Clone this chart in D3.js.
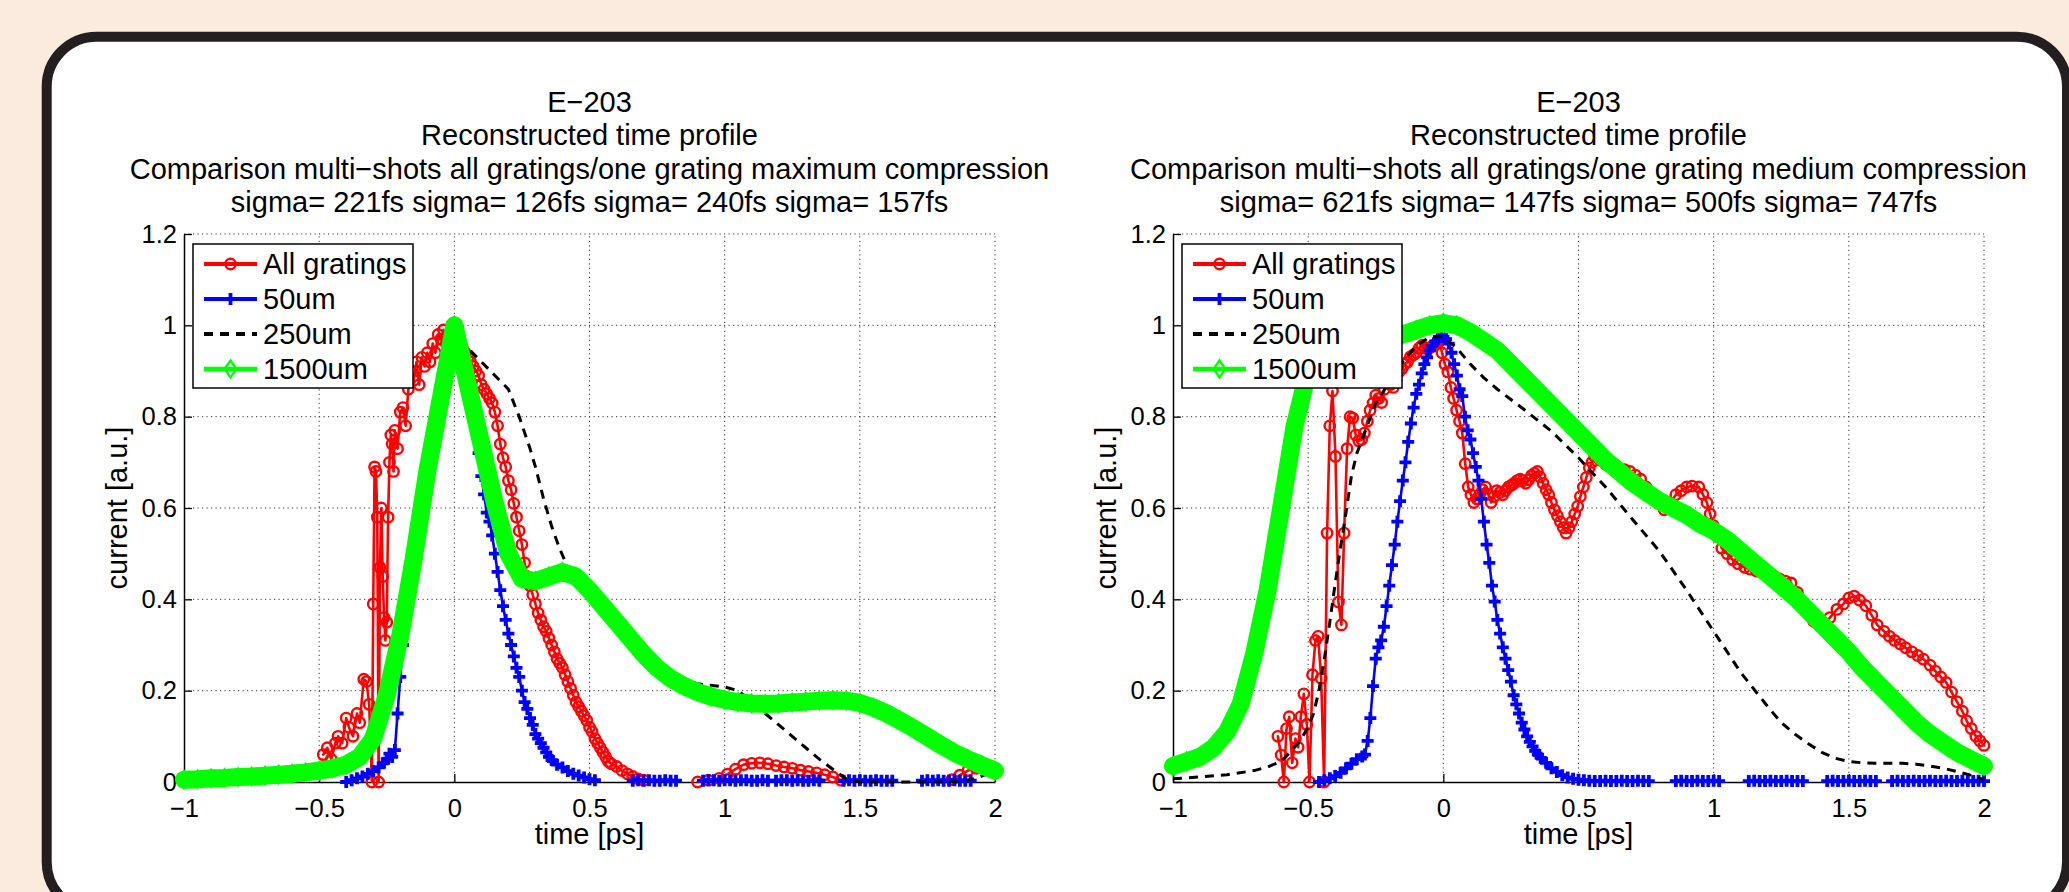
<!DOCTYPE html>
<html>
<head>
<meta charset="utf-8">
<script src="https://cdn.jsdelivr.net/npm/d3@7"></script>
<style>
  html, body { margin: 0; padding: 0; background: #faebde; }
  svg { display: block; }
  text { font-family: "Liberation Sans", Arial, Helvetica, sans-serif; fill: #000; }
</style>
</head>
<body>
<div id="chart"></div>
<script>
const width = 2069;
const height = 892;
const plot_w = 811;
const plot_top = 234;
const plot_bottom = 782;

const x_ticks = [-1, -0.5, 0, 0.5, 1, 1.5, 2];
const y_ticks = [0, 0.2, 0.4, 0.6, 0.8, 1, 1.2];
const legend_labels = ['All gratings', '50um', '250um', '1500um'];
const title_common = ['E\u2212203', 'Reconstructed time profile'];
const title_max = 'Comparison multi\u2212shots all gratings/one grating maximum compression';
const title_med = 'Comparison multi\u2212shots all gratings/one grating medium compression';
const sigma_max = 'sigma= 221fs sigma= 126fs sigma= 240fs sigma= 157fs';
const sigma_med = 'sigma= 621fs sigma= 147fs sigma= 500fs sigma= 747fs';

// ---- maximum compression (left) ----
const max_red = [
  [-0.485,0.06],[-0.47,0.075],[-0.455,0.05],[-0.44,0.085],[-0.43,0.10],[-0.415,0.085],[-0.40,0.14],[-0.39,0.12],
  [-0.375,0.10],[-0.36,0.15],[-0.35,0.13],[-0.335,0.225],[-0.325,0.22],[-0.315,0.17],[-0.305,0.0],[-0.30,0.39],
  [-0.295,0.69],[-0.29,0.68],[-0.285,0.58],[-0.28,0.0],[-0.275,0.47],[-0.27,0.60],[-0.265,0.45],[-0.26,0.36],
  [-0.255,0.31],[-0.25,0.35],[-0.245,0.58],[-0.24,0.70],[-0.235,0.76],[-0.23,0.74],[-0.225,0.68],[-0.22,0.77],
  [-0.21,0.73],[-0.20,0.81],[-0.19,0.82],[-0.18,0.78],[-0.17,0.86],[-0.16,0.90],[-0.15,0.88],[-0.14,0.92],
  [-0.13,0.87],[-0.12,0.93],[-0.11,0.91],[-0.10,0.94],[-0.09,0.92],[-0.08,0.96],[-0.07,0.94],[-0.06,0.98],
  [-0.05,0.97],[-0.04,0.99],[-0.03,0.96],[-0.02,0.93],[-0.01,0.95],[0.00,0.92],[0.01,0.98],[0.02,0.97],
  [0.03,0.95],[0.04,0.94],[0.05,0.93],[0.06,0.92],[0.07,0.91],[0.08,0.90],[0.09,0.89],[0.10,0.87],
  [0.11,0.86],[0.12,0.85],[0.13,0.84],[0.14,0.83],[0.15,0.81],[0.16,0.78],[0.17,0.74],[0.18,0.71],
  [0.19,0.69],[0.20,0.66],[0.21,0.64],[0.22,0.61],[0.23,0.58],[0.24,0.55],[0.25,0.52],[0.26,0.48],
  [0.27,0.45],[0.28,0.43],[0.29,0.41],[0.30,0.39],[0.31,0.37],[0.32,0.355],[0.33,0.34],[0.34,0.33],
  [0.35,0.315],[0.36,0.30],[0.37,0.285],[0.38,0.27],[0.39,0.26],[0.40,0.25],[0.41,0.235],[0.42,0.22],
  [0.43,0.205],[0.44,0.19],[0.45,0.175],[0.46,0.165],[0.47,0.155],[0.48,0.145],[0.49,0.135],[0.50,0.12],
  [0.51,0.11],[0.52,0.095],[0.53,0.085],[0.54,0.075],[0.55,0.065],[0.56,0.055],[0.57,0.045],[0.58,0.04],
  [0.60,0.034],[0.62,0.025],[0.64,0.018],[0.66,0.012],[0.68,0.007],[0.70,0.004],
  null,
  [0.90,0.0],[0.94,0.004],[0.98,0.008],[1.01,0.017],[1.04,0.028],[1.07,0.038],[1.10,0.041],[1.13,0.042],
  [1.16,0.04],[1.19,0.036],[1.22,0.033],[1.25,0.03],[1.28,0.026],[1.31,0.023],[1.34,0.02],[1.37,0.016],
  [1.40,0.011],[1.43,0.004],
  null,
  [1.84,0.005],[1.87,0.015],[1.90,0.025],[1.93,0.03],[1.96,0.034],[1.98,0.03],[2.00,0.025]
];
const max_blue = [
  [-0.40,0.0],[-0.38,0.004],[-0.36,0.008],[-0.34,0.012],[-0.32,0.018],[-0.30,0.024],[-0.28,0.032],[-0.26,0.042],
  [-0.25,0.05],[-0.24,0.062],[-0.23,0.055],[-0.22,0.07],[-0.21,0.15],[-0.20,0.23],[-0.19,0.30],[-0.18,0.37],
  [-0.17,0.42],[-0.16,0.46],[-0.15,0.50],[-0.14,0.55],[-0.13,0.59],[-0.12,0.63],[-0.11,0.67],[-0.10,0.70],
  [-0.09,0.74],[-0.08,0.77],[-0.07,0.80],[-0.06,0.83],[-0.05,0.86],[-0.04,0.89],[-0.03,0.92],[-0.02,0.94],
  [-0.01,0.96],[0.00,0.97],[0.01,0.965],[0.02,0.95],[0.03,0.935],[0.04,0.90],[0.05,0.87],[0.06,0.855],
  [0.07,0.81],[0.08,0.77],[0.09,0.72],[0.10,0.67],[0.11,0.63],[0.12,0.59],[0.13,0.57],[0.14,0.54],
  [0.15,0.50],[0.16,0.46],[0.17,0.42],[0.18,0.385],[0.19,0.355],[0.20,0.325],[0.21,0.30],[0.22,0.275],
  [0.23,0.25],[0.24,0.23],[0.25,0.20],[0.26,0.175],[0.27,0.16],[0.28,0.14],[0.29,0.125],[0.30,0.105],
  [0.31,0.095],[0.32,0.085],[0.33,0.075],[0.34,0.065],[0.35,0.055],[0.36,0.048],[0.38,0.038],[0.40,0.032],
  [0.42,0.024],[0.44,0.018],[0.46,0.014],[0.48,0.01],[0.50,0.006],[0.52,0.004],
  null,
  [0.66,0.003],[0.68,0.004],[0.70,0.003],[0.72,0.004],[0.74,0.003],[0.76,0.003],[0.78,0.004],[0.80,0.003],[0.82,0.003],
  null,
  [0.92,0.003],[0.94,0.004],[0.96,0.004],[0.98,0.003],[1.00,0.004],[1.02,0.004],[1.04,0.003],[1.06,0.004],
  [1.08,0.004],[1.10,0.003],[1.12,0.003],[1.14,0.004],[1.16,0.003],
  null,
  [1.19,0.003],[1.21,0.004],[1.23,0.004],[1.25,0.003],[1.27,0.004],[1.29,0.003],[1.31,0.003],[1.33,0.004],[1.35,0.003],
  null,
  [1.44,0.003],[1.46,0.004],[1.48,0.003],[1.50,0.004],[1.52,0.003],[1.54,0.003],[1.56,0.004],[1.58,0.003],[1.60,0.003],[1.62,0.003],
  null,
  [1.73,0.003],[1.75,0.004],[1.77,0.003],[1.79,0.004],[1.81,0.003],[1.83,0.003],[1.85,0.004],[1.87,0.003],[1.89,0.003],[1.91,0.003]
];
const max_black = [
  [-1.0,0.003],[-0.9,0.004],[-0.8,0.006],[-0.7,0.008],[-0.6,0.012],[-0.5,0.02],[-0.45,0.03],[-0.4,0.045],
  [-0.35,0.07],[-0.3,0.11],[-0.25,0.18],[-0.2,0.30],[-0.15,0.46],[-0.1,0.65],[-0.05,0.83],[0.0,0.965],
  [0.05,0.95],[0.1,0.92],[0.15,0.89],[0.2,0.86],[0.24,0.80],[0.28,0.73],[0.3,0.69],[0.33,0.62],
  [0.36,0.56],[0.39,0.51],[0.42,0.47],[0.45,0.45],[0.5,0.41],[0.6,0.345],[0.7,0.28],[0.8,0.235],
  [0.9,0.215],[1.0,0.208],[1.05,0.2],[1.1,0.175],[1.15,0.15],[1.2,0.125],[1.25,0.1],[1.3,0.075],
  [1.35,0.05],[1.4,0.028],[1.45,0.006],[1.5,0.0],[1.6,0.0],[1.7,0.0],[1.8,0.0],[1.88,0.001],
  [1.94,0.01],[2.0,0.025]
];
const max_green = [
  [-1.00,0.005],[-0.95,0.006],[-0.90,0.008],[-0.85,0.009],[-0.80,0.011],[-0.75,0.012],[-0.70,0.014],[-0.65,0.016],
  [-0.60,0.018],[-0.55,0.021],[-0.50,0.025],[-0.45,0.03],[-0.40,0.038],[-0.35,0.055],[-0.30,0.095],[-0.25,0.19],
  [-0.20,0.32],[-0.15,0.49],[-0.10,0.68],[-0.05,0.84],[0.00,1.0],[0.05,0.87],[0.10,0.74],[0.15,0.61],
  [0.20,0.50],[0.25,0.445],[0.30,0.44],[0.35,0.45],[0.40,0.46],[0.45,0.45],[0.50,0.42],[0.55,0.385],
  [0.60,0.35],[0.65,0.315],[0.70,0.28],[0.75,0.25],[0.80,0.227],[0.85,0.21],[0.90,0.197],[0.95,0.187],
  [1.00,0.18],[1.05,0.175],[1.10,0.172],[1.15,0.171],[1.20,0.172],[1.25,0.174],[1.30,0.176],[1.35,0.178],
  [1.40,0.179],[1.45,0.178],[1.50,0.173],[1.55,0.163],[1.60,0.15],[1.65,0.134],[1.70,0.117],[1.75,0.099],
  [1.80,0.081],[1.85,0.064],[1.90,0.05],[1.95,0.037],[2.00,0.025]
];

// ---- medium compression (right) ----
const med_red = [
  [-0.612,0.10],[-0.60,0.059],[-0.59,0.0],[-0.58,0.117],[-0.57,0.143],[-0.559,0.042],[-0.547,0.095],[-0.537,0.076],
  [-0.527,0.143],[-0.516,0.193],[-0.505,0.126],[-0.495,0.0],[-0.484,0.235],[-0.473,0.31],[-0.463,0.319],[-0.452,0.227],
  [-0.441,0.0],[-0.43,0.545],[-0.42,0.78],[-0.41,0.856],[-0.399,0.713],[-0.388,0.394],[-0.377,0.344],[-0.367,0.545],
  [-0.356,0.73],[-0.345,0.80],[-0.335,0.797],[-0.324,0.76],[-0.313,0.747],[-0.302,0.75],[-0.292,0.764],[-0.281,0.79],
  [-0.271,0.814],[-0.26,0.83],[-0.25,0.847],[-0.239,0.84],[-0.228,0.831],[-0.218,0.86],[-0.207,0.881],[-0.196,0.87],
  [-0.185,0.864],[-0.175,0.88],[-0.164,0.898],[-0.153,0.905],[-0.143,0.915],[-0.132,0.92],[-0.122,0.931],[-0.111,0.935],
  [-0.10,0.94],[-0.09,0.95],[-0.079,0.956],[-0.068,0.95],[-0.058,0.948],[-0.047,0.952],[-0.036,0.956],[-0.025,0.96],
  [-0.015,0.965],[-0.005,0.94],[0.006,0.915],[0.017,0.898],[0.028,0.864],[0.038,0.84],[0.049,0.814],[0.06,0.79],
  [0.07,0.764],[0.081,0.697],[0.092,0.646],[0.102,0.629],[0.113,0.612],[0.124,0.62],[0.134,0.629],[0.145,0.64],
  [0.156,0.646],[0.166,0.63],[0.177,0.612],[0.188,0.625],[0.198,0.638],[0.209,0.634],[0.22,0.629],[0.23,0.638],
  [0.241,0.646],[0.252,0.65],[0.262,0.654],[0.273,0.66],[0.284,0.663],[0.294,0.66],[0.305,0.654],[0.316,0.662],
  [0.326,0.671],[0.337,0.676],[0.348,0.68],[0.358,0.668],[0.369,0.654],[0.38,0.64],[0.39,0.629],[0.40,0.612],
  [0.411,0.596],[0.422,0.583],[0.433,0.57],[0.444,0.557],[0.454,0.545],[0.465,0.557],[0.475,0.57],[0.486,0.587],
  [0.497,0.604],[0.507,0.625],[0.518,0.646],[0.529,0.667],[0.54,0.688],[0.55,0.70],[0.56,0.713],[0.58,0.705],
  [0.60,0.696],[0.62,0.692],[0.646,0.688],[0.67,0.684],[0.69,0.68],[0.71,0.672],[0.73,0.663],[0.75,0.646],
  [0.774,0.629],[0.795,0.61],[0.817,0.596],[0.838,0.61],[0.86,0.629],[0.88,0.638],[0.90,0.646],[0.92,0.648],
  [0.945,0.646],[0.96,0.63],[0.975,0.612],[0.987,0.587],[0.998,0.562],[1.014,0.537],[1.03,0.512],[1.05,0.50],
  [1.07,0.487],[1.09,0.478],[1.115,0.47],[1.135,0.466],[1.158,0.462],[1.18,0.458],[1.20,0.453],[1.22,0.449],
  [1.243,0.445],[1.265,0.44],[1.286,0.436],[1.31,0.415],[1.33,0.394],[1.35,0.373],[1.37,0.352],[1.39,0.348],
  [1.41,0.344],[1.43,0.36],[1.456,0.378],[1.48,0.39],[1.50,0.403],[1.52,0.407],[1.54,0.398],[1.563,0.386],
  [1.585,0.365],[1.605,0.344],[1.63,0.33],[1.65,0.319],[1.67,0.31],[1.69,0.302],[1.71,0.294],[1.733,0.285],
  [1.755,0.277],[1.776,0.269],[1.80,0.256],[1.82,0.243],[1.84,0.23],[1.86,0.218],[1.88,0.197],[1.90,0.176],
  [1.92,0.155],[1.936,0.134],[1.953,0.117],[1.97,0.10],[1.985,0.09],[2.0,0.08]
];
const med_blue = [
  [-0.46,0.0],[-0.44,0.004],[-0.42,0.008],[-0.40,0.013],[-0.38,0.02],[-0.36,0.03],[-0.34,0.04],[-0.32,0.05],
  [-0.30,0.056],[-0.29,0.06],[-0.28,0.09],[-0.27,0.14],[-0.26,0.21],[-0.25,0.27],[-0.24,0.295],[-0.23,0.31],
  [-0.22,0.34],[-0.21,0.385],[-0.20,0.43],[-0.19,0.475],[-0.18,0.52],[-0.17,0.57],[-0.16,0.615],[-0.15,0.66],
  [-0.14,0.70],[-0.13,0.745],[-0.12,0.785],[-0.11,0.82],[-0.10,0.85],[-0.09,0.87],[-0.08,0.895],[-0.07,0.915],
  [-0.06,0.93],[-0.05,0.945],[-0.04,0.955],[-0.03,0.965],[-0.02,0.97],[-0.01,0.975],[0.00,0.975],[0.01,0.97],
  [0.02,0.96],[0.03,0.94],[0.04,0.915],[0.05,0.89],[0.06,0.86],[0.07,0.845],[0.08,0.80],[0.09,0.77],
  [0.10,0.75],[0.11,0.72],[0.12,0.69],[0.13,0.66],[0.14,0.62],[0.15,0.57],[0.16,0.52],[0.17,0.48],
  [0.18,0.43],[0.19,0.395],[0.20,0.355],[0.21,0.325],[0.22,0.295],[0.23,0.27],[0.24,0.245],[0.25,0.22],
  [0.26,0.19],[0.27,0.17],[0.28,0.15],[0.29,0.13],[0.30,0.115],[0.31,0.10],[0.32,0.088],[0.33,0.078],
  [0.34,0.068],[0.35,0.06],[0.36,0.053],[0.38,0.042],[0.40,0.03],[0.42,0.022],[0.44,0.015],[0.46,0.01],
  [0.48,0.007],[0.50,0.005],[0.52,0.004],[0.54,0.003],[0.56,0.002],[0.58,0.002],[0.60,0.003],[0.62,0.002],
  [0.64,0.002],[0.66,0.003],[0.68,0.002],[0.70,0.002],[0.72,0.003],[0.74,0.002],[0.76,0.002],
  null,
  [0.86,0.002],[0.88,0.003],[0.90,0.002],[0.92,0.002],[0.94,0.003],[0.96,0.002],[0.98,0.002],[1.00,0.003],[1.02,0.002],
  null,
  [1.13,0.002],[1.15,0.003],[1.17,0.002],[1.19,0.002],[1.21,0.003],[1.23,0.002],[1.25,0.002],[1.27,0.003],[1.29,0.002],[1.31,0.002],[1.33,0.002],
  null,
  [1.42,0.002],[1.44,0.003],[1.46,0.002],[1.48,0.002],[1.50,0.003],[1.52,0.002],[1.54,0.002],[1.56,0.003],[1.58,0.002],[1.60,0.002],
  null,
  [1.66,0.002],[1.68,0.003],[1.70,0.002],[1.72,0.002],[1.74,0.003],[1.76,0.002],[1.78,0.002],[1.80,0.003],[1.82,0.002],
  [1.84,0.002],[1.86,0.003],[1.88,0.002],[1.90,0.002],[1.92,0.003],[1.94,0.002],[1.96,0.002],[1.98,0.003],[2.00,0.002]
];
const med_black = [
  [-1.0,0.007],[-0.9,0.011],[-0.8,0.016],[-0.7,0.025],[-0.65,0.033],[-0.6,0.045],[-0.57,0.063],[-0.53,0.09],
  [-0.5,0.12],[-0.48,0.15],[-0.46,0.2],[-0.44,0.27],[-0.42,0.35],[-0.4,0.435],[-0.38,0.515],[-0.36,0.59],
  [-0.34,0.67],[-0.32,0.72],[-0.3,0.75],[-0.25,0.83],[-0.2,0.875],[-0.15,0.92],[-0.1,0.955],[-0.05,0.975],
  [0.0,0.975],[0.05,0.95],[0.1,0.915],[0.15,0.885],[0.2,0.86],[0.3,0.815],[0.4,0.768],[0.5,0.71],
  [0.6,0.646],[0.7,0.575],[0.8,0.505],[0.9,0.42],[1.0,0.33],[1.1,0.24],[1.2,0.165],[1.25,0.13],
  [1.3,0.105],[1.35,0.084],[1.4,0.065],[1.45,0.052],[1.5,0.045],[1.55,0.042],[1.6,0.041],[1.7,0.041],
  [1.75,0.039],[1.8,0.035],[1.85,0.03],[1.9,0.023],[1.95,0.015],[2.0,0.005]
];
const med_green = [
  [-1.00,0.035],[-0.95,0.045],[-0.90,0.055],[-0.85,0.075],[-0.80,0.11],[-0.75,0.17],[-0.70,0.28],[-0.65,0.42],
  [-0.60,0.60],[-0.55,0.78],[-0.50,0.90],[-0.45,0.935],[-0.40,0.95],[-0.35,0.96],[-0.30,0.965],[-0.25,0.97],
  [-0.20,0.975],[-0.15,0.98],[-0.10,0.99],[-0.05,1.0],[0.00,1.005],[0.05,1.0],[0.10,0.985],[0.15,0.965],
  [0.20,0.945],[0.25,0.915],[0.30,0.885],[0.35,0.855],[0.40,0.825],[0.45,0.795],[0.50,0.765],[0.55,0.735],
  [0.60,0.705],[0.65,0.68],[0.70,0.655],[0.75,0.635],[0.80,0.615],[0.85,0.60],[0.90,0.585],[0.95,0.565],
  [1.00,0.55],[1.05,0.53],[1.10,0.505],[1.15,0.48],[1.20,0.455],[1.25,0.43],[1.30,0.405],[1.35,0.375],
  [1.40,0.345],[1.45,0.315],[1.50,0.285],[1.55,0.25],[1.60,0.22],[1.65,0.19],[1.70,0.16],[1.75,0.13],
  [1.80,0.105],[1.85,0.085],[1.90,0.065],[1.95,0.05],[2.00,0.035]
];

const styles = [
  { color: '#ff0000', width: 2.6, legend_width: 3.8, marker: 'circle' },
  { color: '#0000ff', width: 2.6, legend_width: 3.8, marker: 'plus' },
  { color: '#000000', width: 3, legend_width: 3.8, marker: 'none', dash: '9,7' },
  { color: '#00ff00', width: 18, legend_width: 4.5, marker: 'diamond' }
];

const panels = [
  { left: 184, title: title_max, sigma: sigma_max, series: [max_red, max_blue, max_black, max_green] },
  { left: 1173, title: title_med, sigma: sigma_med, series: [med_red, med_blue, med_black, med_green] }
];

const svg = d3.select('#chart')
  .append('svg')
    .attr('width', width)
    .attr('height', height);

svg.append('rect')
  .attr('width', width).attr('height', height)
  .attr('fill', '#faebde');
svg.append('rect')
  .attr('x', 46.7).attr('y', 36.7)
  .attr('width', 2067 - 46.7).attr('height', 912 - 36.7)
  .attr('rx', 50).attr('ry', 50)
  .attr('fill', '#fff')
  .attr('stroke', '#231f20')
  .attr('stroke-width', 10);

let fmt = d => d < 0 ? '\u2212' + Math.abs(d) : String(d);

let draw_marker = (g, type, color, px, py) => {
  if (type === 'circle') {
    g.append('circle').attr('cx', px).attr('cy', py).attr('r', 5.2)
      .attr('fill', 'none').attr('stroke', color).attr('stroke-width', 2.4);
  } else if (type === 'plus') {
    g.append('path').attr('d', `M${px-6},${py}H${px+6}M${px},${py-6}V${py+6}`)
      .attr('stroke', color).attr('stroke-width', 3.8);
  } else if (type === 'diamond') {
    g.append('path').attr('d', `M${px},${py-8.5}L${px+6},${py}L${px},${py+8.5}L${px-6},${py}Z`)
      .attr('fill', 'none').attr('stroke', color).attr('stroke-width', 2.4);
  }
};

panels.forEach(p => {
  const x = d3.scaleLinear().domain([-1, 2]).range([p.left, p.left + plot_w]);
  const y = d3.scaleLinear().domain([0, 1.2]).range([plot_bottom, plot_top]);
  const cx = p.left + plot_w / 2;
  const g = svg.append('g');

  // titles
  [title_common[0], title_common[1], p.title, p.sigma].forEach((t, i) => {
    g.append('text')
      .attr('x', cx).attr('y', 112 + i * 33.4)
      .attr('text-anchor', 'middle')
      .style('font-size', '29px')
      .text(t);
  });

  // grid
  g.selectAll('.gx').data(x_ticks.slice(1)).join('line')
    .attr('x1', d => x(d)).attr('x2', d => x(d))
    .attr('y1', y(0)).attr('y2', y(1.2))
    .attr('stroke', '#333').attr('stroke-width', 1).attr('stroke-dasharray', '1.2,3.3');
  g.selectAll('.gy').data(y_ticks.slice(1)).join('line')
    .attr('x1', x(-1)).attr('x2', x(2))
    .attr('y1', d => y(d)).attr('y2', d => y(d))
    .attr('stroke', '#333').attr('stroke-width', 1).attr('stroke-dasharray', '1.2,3.3');

  // axes
  const ax = g.append('g')
    .attr('transform', `translate(0,${plot_bottom})`)
    .call(d3.axisBottom(x).tickValues(x_ticks).tickFormat(fmt).tickSizeInner(-8).tickSizeOuter(0).tickPadding(17));
  const ay = g.append('g')
    .attr('transform', `translate(${p.left},0)`)
    .call(d3.axisLeft(y).tickValues(y_ticks).tickFormat(fmt).tickSizeInner(-8).tickSizeOuter(0).tickPadding(7));
  [ax, ay].forEach(a => {
    a.selectAll('text').style('font-size', '25.5px').attr('fill', '#000')
      .style('font-family', '"Liberation Sans", Arial, Helvetica, sans-serif');
    a.selectAll('line').attr('stroke', '#000').attr('stroke-width', 1.3);
    a.select('.domain').attr('stroke', '#000').attr('stroke-width', 1.5);
  });

  g.append('text')
    .attr('x', cx).attr('y', 844)
    .attr('text-anchor', 'middle')
    .style('font-size', '29px')
    .text('time [ps]');
  g.append('text')
    .attr('transform', `translate(${p.left - 57},${(plot_top + plot_bottom) / 2}) rotate(-90)`)
    .attr('text-anchor', 'middle')
    .style('font-size', '29px')
    .text('current [a.u.]');

  // series
  const line = d3.line()
    .defined(d => d !== null)
    .x(d => x(d[0]))
    .y(d => y(d[1]));
  p.series.forEach((data, i) => {
    const s = styles[i];
    const sg = g.append('g');
    sg.append('path')
      .attr('d', line(data))
      .attr('fill', 'none')
      .attr('stroke', s.color)
      .attr('stroke-width', s.width)
      .attr('stroke-linejoin', 'round')
      .attr('stroke-linecap', s.dash ? 'butt' : 'round')
      .attr('stroke-dasharray', s.dash || null);
    data.filter(d => d !== null).forEach(d => draw_marker(sg, s.marker, s.color, x(d[0]), y(d[1])));
  });

  // legend
  const lg = g.append('g').attr('transform', `translate(${p.left + 9},244)`);
  lg.append('rect')
    .attr('width', 220).attr('height', 144)
    .attr('fill', '#fff').attr('stroke', '#000').attr('stroke-width', 1.5);
  legend_labels.forEach((label, i) => {
    const s = styles[i];
    const ly = 20 + i * 35;
    lg.append('line')
      .attr('x1', 11).attr('x2', 64).attr('y1', ly).attr('y2', ly)
      .attr('stroke', s.color).attr('stroke-width', s.legend_width)
      .attr('stroke-dasharray', s.dash || null);
    draw_marker(lg, s.marker, s.color, 37.5, ly);
    lg.append('text')
      .attr('x', 70).attr('y', ly + 10)
      .style('font-size', '29px')
      .text(label);
  });
});
</script>
</body>
</html>
